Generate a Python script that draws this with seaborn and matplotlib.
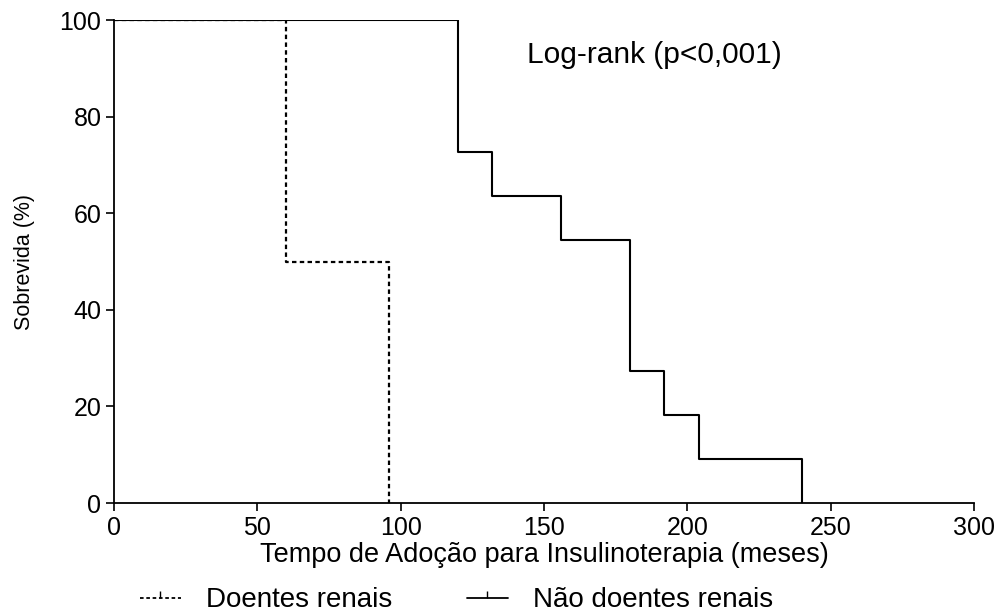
import pandas as pd
import matplotlib
matplotlib.use("Agg")
import matplotlib.pyplot as plt
import seaborn as sns
from matplotlib.lines import Line2D

# curvas de Kaplan-Meier
renal_tempo = [0, 60, 96]
renal_sobrev = [100, 50, 0]
nao_renal_tempo = [0, 120, 132, 156, 180, 192, 204, 240]
nao_renal_sobrev = [100, 72.7, 63.6, 54.5, 27.3, 18.2, 9.1, 0]
x_ticks = [0, 50, 100, 150, 200, 250, 300]
y_ticks = [0, 20, 40, 60, 80, 100]

df_renal = pd.DataFrame({'Tempo': renal_tempo, 'Sobrevida': renal_sobrev})
df_nao = pd.DataFrame({'Tempo': nao_renal_tempo, 'Sobrevida': nao_renal_sobrev})

sns.set_style('ticks')
plt.rcParams['font.family'] = ['Liberation Sans', 'DejaVu Sans']
plt.rcParams['text.color'] = 'black'
plt.rcParams['axes.labelcolor'] = 'black'

fig = plt.figure(figsize=(10.05, 6.12), dpi=100)
ax = fig.add_axes([0.1134, 0.178, 0.8557, 0.789])

sns.lineplot(data=df_nao, x='Tempo', y='Sobrevida', ax=ax, color='black',
             linewidth=1.5, drawstyle='steps-post', estimator=None)
sns.lineplot(data=df_renal, x='Tempo', y='Sobrevida', ax=ax, color='black',
             linewidth=1.6, drawstyle='steps-post', estimator=None,
             linestyle=(0, (2, 1.5)))

ax.set_xlim(0, 300)
ax.set_ylim(0, 100)
ax.set_xticks(x_ticks)
ax.set_yticks(y_ticks)
ax.tick_params(axis='both', labelsize=18, length=6, width=1.2, direction='out',
               colors='black', pad=3)
for s in ['left', 'bottom']:
    ax.spines[s].set_linewidth(1.3)
    ax.spines[s].set_color('black')
sns.despine(ax=ax)
ax.set_xlabel('Tempo de Adoção para Insulinoterapia (meses)', fontsize=19.5,
              labelpad=2, color='black')
ax.set_ylabel('Sobrevida (%)', fontsize=15.5, labelpad=18, color='black')

ax.text(144, 92.8, 'Log-rank (p<0,001)', fontsize=21.5, va='center', ha='left',
        color='black')

handles = [
    Line2D([], [], color='black', linestyle=(0, (2, 1.5)), linewidth=1.3,
           marker=2, markersize=5, markevery=[1]),
    Line2D([], [], color='black', linewidth=1.3, marker=2, markersize=5),
]
leg = fig.legend(handles, ['Doentes renais', 'Não doentes renais'], loc='center left',
                 bbox_to_anchor=(0.139, 0.019), ncol=2, frameon=False, fontsize=20,
                 handlelength=1.47, columnspacing=2.7, handletextpad=0.9,
                 borderpad=0, borderaxespad=0)
for t in leg.get_texts():
    t.set_color('black')

fig.savefig('out.png', dpi=100)
